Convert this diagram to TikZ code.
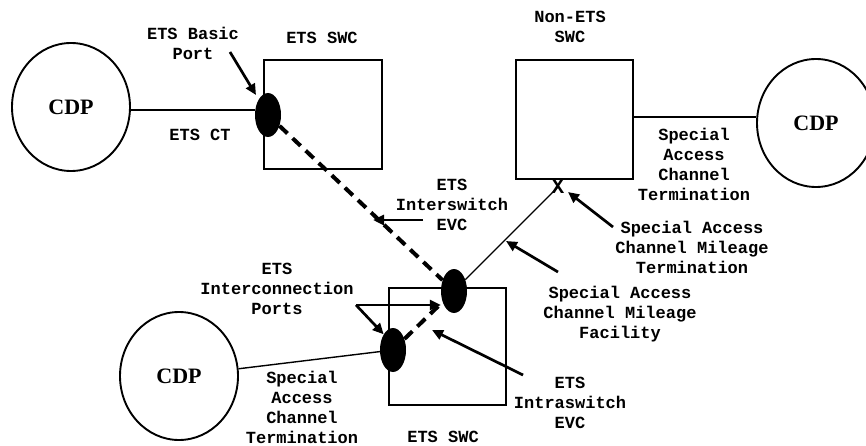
\documentclass[tikz,border=0pt]{standalone}
\usepackage{fontspec}
\setmainfont{Liberation Serif}
\newfontfamily\labfont{Liberation Mono}
\usetikzlibrary{shapes.geometric,arrows.meta}
\tikzset{
  lab/.style={font=\labfont\bfseries\fontsize{17}{20}\selectfont, align=center, inner sep=0pt, text=black},
  cdp/.style={ellipse, draw, line width=1.9pt, minimum width=118pt, minimum height=128pt, inner sep=0pt, font=\bfseries\fontsize{22}{26}\selectfont},
  swc/.style={draw, line width=1.3pt, inner sep=0pt},
  port/.style={ellipse, fill=black, minimum width=26pt, minimum height=44pt, inner sep=0pt},
  arr/.style={line width=2.7pt, -{Triangle[length=11pt,width=10pt]}},
  dashline/.style={line width=4pt, dash pattern=on 11pt off 7pt},
  link/.style={line width=1.4pt},
}
\begin{document}
\begin{tikzpicture}[x=1pt,y=-1pt]
\clip (0,0) rectangle (866,446);
\fill[white] (0,0) rectangle (866,446);
% circles
\node[cdp] (cdp1) at (71,107) {CDP};
\node[cdp] (cdp2) at (816,123) {CDP};
\node[cdp] (cdp3) at (179,376) {CDP};
% boxes
\node[swc, minimum width=118pt, minimum height=109pt] (swc1) at (323,114.5) {};
\node[swc, minimum width=117pt, minimum height=119pt] (nets) at (574.5,119.5) {};
\node[swc, minimum width=117pt, minimum height=117pt] (swc2) at (447.5,346.5) {};
% ports
\node[port] (p1) at (268,115) {};
\node[port] (p2) at (454,291) {};
\node[port] (p3) at (393,350) {};
\node[font=\labfont\bfseries\fontsize{21}{21}\selectfont, inner sep=0pt] (xm) at (558,187) {X};
% connectors
\draw[link] (cdp1.east |- 0,110) -- (p1.west |- 0,110);
\draw[link] (nets.east |- 0,117) -- (cdp2.west |- 0,117);
\draw[link] (cdp3) -- (p3);
\draw[link] (p2) -- (xm.center);
\draw[dashline] (p1) -- (p2);
\draw[dashline] (p3) -- (p2);
% labels
\node[lab] (lbp) at (193,43) {ETS Basic\\Port};
\node[lab] (lswc1) at (322,38) {ETS SWC};
\node[lab] (lct) at (200,135) {ETS CT};
\node[lab] (lnets) at (570,27) {Non-ETS\\SWC};
\node[lab] (lsact1) at (694,164.5) {Special\\Access\\Channel\\Termination};
\node[lab] (lsacmt) at (692,247) {Special Access\\Channel Mileage\\Termination};
\node[lab] (liev) at (452,205) {ETS\\Interswitch\\EVC};
\node[lab] (licp) at (277,289) {ETS\\Interconnection\\Ports};
\node[lab] (lsacmf) at (620,314) {Special Access\\Channel Mileage\\Facility};
\node[lab] (lsact2) at (302,407.5) {Special\\Access\\Channel\\Termination};
\node[lab] (lswc2) at (443,437) {ETS SWC};
\node[lab] (lintra) at (570,403) {ETS\\Intraswitch\\EVC};
% arrows
\coordinate (a1s) at (230,52);   \coordinate (a1e) at (256,95);
\coordinate (a2s) at (423,220);  \coordinate (a2e) at (373,220);
\coordinate (a3s) at (613,227);  \coordinate (a3e) at (568,192);
\coordinate (a4s) at (558,272);  \coordinate (a4e) at (506,241);
\coordinate (a5s) at (356,305);
\coordinate (a6s) at (523,375);  \coordinate (a6e) at (432,330);
\draw[arr] (a1s) -- (a1e);
\draw[arr] (a2s) -- (a2e);
\draw[arr] (a3s) -- (a3e);
\draw[arr] (a4s) -- (a4e);
\draw[arr] (a5s) -- (p2.west |- a5s);
\draw[arr] (a5s) -- (p3.north west);
\draw[arr] (a6s) -- (a6e);
\end{tikzpicture}
\end{document}
